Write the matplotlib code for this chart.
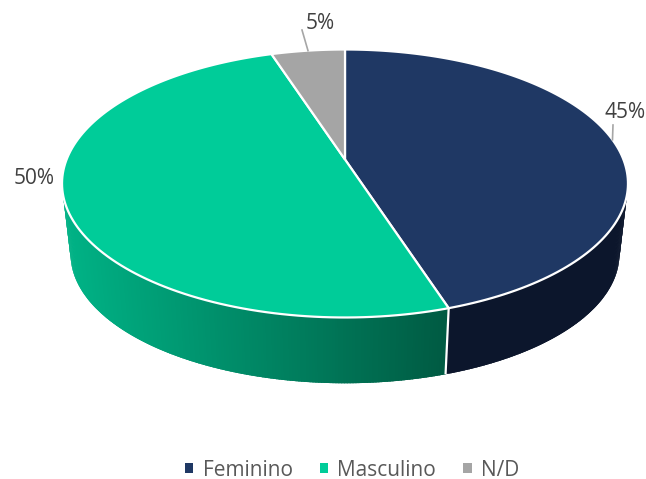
import numpy as np
import matplotlib
matplotlib.use("Agg")
import matplotlib.pyplot as plt
from matplotlib.patches import Patch
from matplotlib.path import Path
from matplotlib.transforms import Transform, Affine2D
from matplotlib.colors import to_rgb

plt.rcParams['font.family'] = ['Open Sans', 'DejaVu Sans']

categories = ['Feminino', 'Masculino', 'N/D']
shares = [45, 50, 5]
labels = ['45%', '50%', '5%']
colors = ['#1F3864', '#00CC99', '#A5A5A5']
wall_left = ['#0C162C', '#00B386', '#6E6E6E']
wall_right = ['#0C162C', '#005A42', '#6E6E6E']

W, H = 646, 479
TILT = 0.179              # perspective strength
TOP = (345, 159.5, 278.4, 129.7)   # apex x, apex y, x scale, y scale of the top face
BOTTOM = (345, 231, 270, 125)      # same for the lower rim


def project(x, y, geom=TOP):
    cx, cy, a, b = geom
    d = 1 + TILT * np.asarray(y)
    return cx + a * np.asarray(x) / d, cy - b * np.asarray(y) / d


class Perspective(Transform):
    input_dims = output_dims = 2

    def transform_non_affine(self, values):
        values = np.asarray(values)
        px, py = project(values[:, 0], values[:, 1])
        return np.column_stack([px, py])

    def transform_path_non_affine(self, path):
        scale = 2000.0
        polys = path.to_polygons(transform=Affine2D().scale(scale), closed_only=True)
        return Path(self.transform_non_affine(polys[0] / scale), closed=True)


fig = plt.figure(figsize=(W / 100, H / 100), dpi=100, facecolor='white')
ax = fig.add_axes([0, 0, 1, 1])

edges = 90 - np.cumsum([0] + shares) * 3.6   # slice boundaries, degrees
mids = (edges[:-1] + edges[1:]) / 2
front_lo = -180 + np.degrees(np.arcsin(TILT))
front_hi = -np.degrees(np.arcsin(TILT))
seam_angle = edges[1]

# side wall of the disc, front part only
for i in range(len(shares)):
    hi, lo = edges[i], edges[i + 1]
    start, stop = max(lo, front_lo), min(hi, front_hi)
    if stop <= start:
        continue
    angles = np.arange(start, stop, 0.5)
    angles = np.append(angles, stop)
    c0, c1 = np.array(to_rgb(wall_left[i])), np.array(to_rgb(wall_right[i]))
    x_a = project(np.cos(np.radians(start)), np.sin(np.radians(start)))[0]
    x_b = project(np.cos(np.radians(stop)), np.sin(np.radians(stop)))[0]
    for t0, t1 in zip(angles[:-1], angles[1:]):
        r = np.radians([t0, min(t1 + 0.7, stop)])
        tx, ty = project(np.cos(r), np.sin(r))
        bx, by = project(np.cos(r), np.sin(r), BOTTOM)
        f = (tx[0] - x_a) / (x_b - x_a)
        col = c0 + (c1 - c0) * np.clip(f, 0, 1)
        ax.fill([tx[0], tx[1], bx[1], bx[0]], [ty[0], ty[1], by[1], by[0]],
                color=col, lw=0, zorder=1)

# white seam on the wall where the two front slices meet
r = np.radians(seam_angle)
sx0, sy0 = project(np.cos(r), np.sin(r))
sx1, sy1 = project(np.cos(r), np.sin(r), BOTTOM)
ax.plot([sx0, sx1], [sy0, sy1], color='white', lw=1.6, zorder=2, solid_capstyle='butt')

# top face
wedges, _ = ax.pie(shares, colors=colors, startangle=90, counterclock=False,
                   radius=1, center=(0, 0), frame=True,
                   wedgeprops=dict(edgecolor='white', linewidth=1.6))
for w in wedges:
    w.set_zorder(3)
    w.set_transform(Perspective() + ax.transData)

ax.set_aspect('auto')
ax.set_xlim(0, W)
ax.set_ylim(H, 0)
ax.axis('off')

# data labels
label_pos = [(625, 112), (34, 179), (320, 23)]
for text, (px, py) in zip(labels, label_pos):
    ax.text(px, py, text, ha='center', va='center',
            fontsize=15, color='#404040', zorder=5)

# leader lines from the middle of the slice to its label
leader_tips = {0: (613, 125), 2: (302, 30)}
for i, (px, py) in leader_tips.items():
    r = np.radians(mids[i])
    ex, ey = project(np.cos(r), np.sin(r))
    ax.plot([px, ex], [py, ey], color='#A6A6A6', lw=1.2, zorder=4)

handles = [Patch(facecolor=c, edgecolor='none') for c in colors]
leg = fig.legend(handles, categories, ncol=3, loc='center', frameon=False,
                 bbox_to_anchor=(352 / W, 1 - 470 / H), fontsize=15,
                 labelcolor='#595959', handlelength=0.4, handleheight=0.4,
                 handletextpad=0.45, columnspacing=1.3)

fig.savefig('out.png', dpi=100, facecolor='white')
